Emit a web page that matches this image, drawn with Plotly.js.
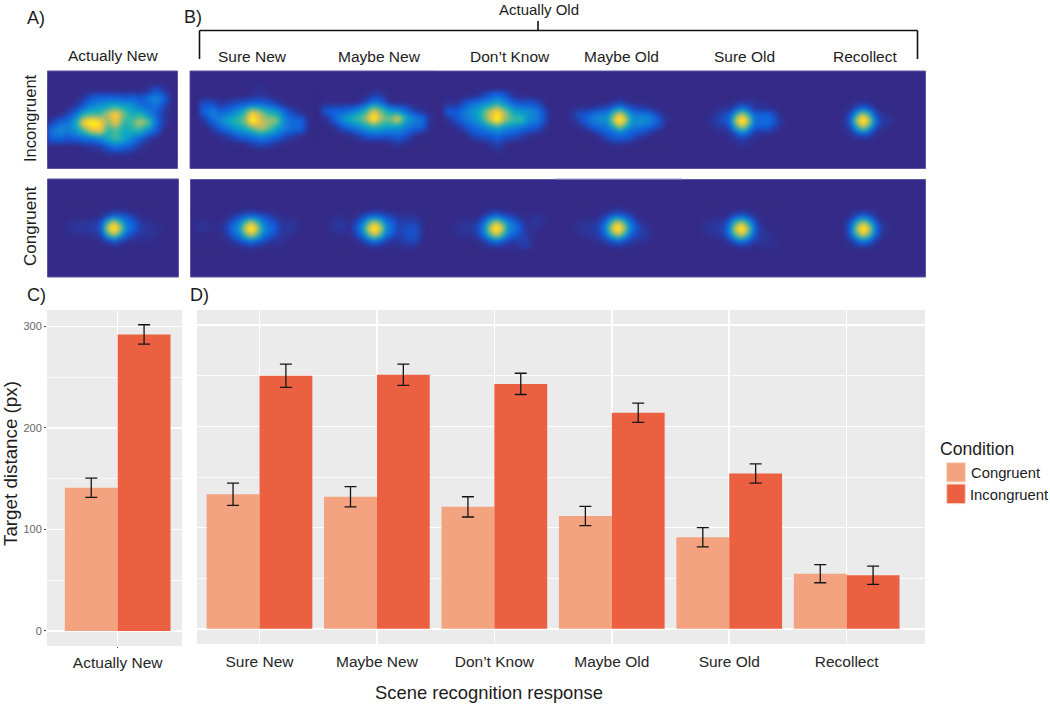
<!DOCTYPE html>
<html>
<head>
<meta charset="utf-8">
<script src="https://cdn.plot.ly/plotly-3.0.1.min.js"></script>
<style>
html, body { margin: 0; padding: 0; background: #fff; }
</style>
</head>
<body>
<svg width="0" height="0" style="position:absolute">
  <filter id="soft" x="-15%" y="-25%" width="130%" height="150%" color-interpolation-filters="sRGB">
    <feGaussianBlur stdDeviation="2.2"></feGaussianBlur>
  </filter>
</svg>
<div id="chart" style="width:1050px;height:704px"></div>
<script>
var categoriesNew = ["Actually New"];
var congruentNew = [141];
var incongruentNew = [292];
var errCongruentNew = [9.5];
var errIncongruentNew = [9.5];

var categoriesOld = ["Sure New", "Maybe New", "Don\u2019t Know", "Maybe Old", "Sure Old", "Recollect"];
var congruentOld = [133, 130.5, 120.5, 111.5, 90.5, 54.5];
var incongruentOld = [250, 251, 242, 213.5, 153.5, 53];
var errCongruentOld = [11, 10, 10, 9.5, 9.5, 9];
var errIncongruentOld = [11.5, 10.5, 10.5, 9.5, 9.5, 9];
var conditions = ["Congruent", "Incongruent"];

// fixation maps, coarse density levels (0 = background, 8 = yellow peak)
var mapNewIncongruent = [
  [0,0,0,0,0,0,0,0,0,0,0,0,.2,.7,.2,0],
  [0,0,0,0,.3,1,1.2,1.2,1.2,1,1.2,.8,1.3,2.2,1.2,0],
  [0,0,0,.3,1,2,2.5,3,3.5,3,2.5,1.5,1.2,1.5,.5,0],
  [0,0,.5,1.3,3.5,4,3.8,5.5,7,4.5,3.2,3.5,2.2,1,.2,0],
  [.3,1.2,1.5,3,7,8,7,4.5,6.5,3.5,4,5.5,4.5,1.5,.3,0],
  [1.5,2.2,1.8,2.5,4,6,6.5,3.5,4,3,3.5,3.5,2,1,0,0],
  [1,1.2,.8,1,1.3,1.5,2,3,4.2,3,2,1,.3,0,0,0],
  [0,0,0,0,.1,.2,.3,1,1.5,1.2,.8,.2,0,0,0,0],
  [0,0,0,0,0,0,0,.1,.1,.1,0,0,0,0,0,0]
];
var mapNewCongruent = [
  [0,0,0,0,0,0,0,.05,.1,.05,0,0,0,0,0,0,0],
  [0,0,0,0,0,0,.1,.5,1.2,1,.9,.4,.1,0,0,0,0],
  [.05,.15,.2,.2,.25,.3,.8,3.5,6,3.5,1.6,1.2,.5,.15,.1,.05,0],
  [.1,.2,.25,.25,.3,.4,1,6,8,6,2,1.3,.6,.25,.2,.15,.05],
  [.05,.1,.1,.15,.1,.2,.7,3.5,6,3.5,1.3,.7,.3,.2,.2,.15,.05],
  [0,0,0,0,0,0,.1,.5,1.2,.7,.3,.1,.1,.1,.1,.05,0],
  [0,0,0,0,0,0,0,.05,.1,.05,0,0,0,0,0,0,0]
];
var mapSureNewIncongruent = [
  [0,0,0,0,0,0,0,.15,0,0,0,0,0,0],
  [0,0,0,0,0,0,.1,.3,.1,0,0,0,0,0],
  [.8,.8,.2,.5,.8,1,1.3,1.4,1.1,.5,.1,0,0,0],
  [1,2,1.2,1.5,2.2,3.5,6.5,5,3.4,3,1.3,.5,.1,0],
  [.2,1.2,2,3,3.8,4.5,8,6,5,5,2,1.3,1.2,.1],
  [0,.2,1,1.5,2.5,3,4.2,5.5,4.5,3,1.8,1.3,1.3,.1],
  [0,0,.1,.3,.8,1.2,1.5,2,1.7,1.2,.6,.3,0,0],
  [0,0,0,0,0,0,.3,.5,.4,.1,0,0,0,0]
];
var mapMaybeNewIncongruent = [
  [0,0,0,0,0,0,.3,.2,0,0,0,0,0,0],
  [0,0,0,0,0,.6,1.6,1.2,0,0,0,0,0,0],
  [.8,1.2,1,1.4,2,3.5,6,4.2,2.5,2,1.2,.4,.1,0],
  [.1,1,2.2,3.2,4,5,8,5,4.5,6.5,3.2,2,1.4,.1],
  [0,.1,.8,1.4,2,2.8,3.5,3,2.8,2.6,1.8,1.4,1.2,.1],
  [0,0,0,.1,.4,1,1.2,1.1,1,1.3,.9,.2,0,0],
  [0,0,0,0,0,0,0,0,.1,.3,.1,0,0,0]
];
var mapDontKnowIncongruent = [
  [0,0,0,0,.2,.8,1.2,.8,.1,0,0,0,0],
  [.2,.1,.8,1.5,2,2.5,3.5,2.2,1.2,.8,.9,.6,0],
  [1,1,1.8,2.5,3.5,5.5,7,5,3,2.5,2.3,1.8,.5],
  [.2,.8,1.4,2,3.2,5.5,8,5,4,4,2,1.8,.6],
  [0,.1,.6,1.2,1.5,2.2,2.8,2.2,1.8,1.4,1,.8,.1],
  [0,0,0,.5,.8,.9,1.2,.9,.7,.4,.1,0,0],
  [0,0,0,0,0,.1,.6,.1,0,0,0,0,0],
  [0,0,0,0,0,0,.1,0,0,0,0,0,0]
];
var mapMaybeOldIncongruent = [
  [0,0,0,0,0,0,0,.1,.3,.1,0,0,0,0,0,0,0],
  [0,.1,.15,.1,.2,.4,.6,1.1,2,1.1,.6,.4,.3,.1,0,0,0],
  [.2,.7,.7,.9,1.6,1.7,1.8,4,6,4,1.8,1.5,1.4,1.2,.6,.1,0],
  [.1,.4,.9,1.6,2,2.4,2.4,6,8,6,2.4,2.4,2.5,2.2,1.3,.6,.1],
  [0,.1,.4,.9,1.3,1.5,1.8,3.5,6,3.5,1.9,1.8,1.6,1.2,.9,.4,0],
  [0,0,0,.1,.4,.9,1.1,1.3,2,1.3,1.1,1,.7,.4,.1,0,0],
  [0,0,0,0,0,.1,.6,1,1,1,.7,.2,.1,0,0,0,0],
  [0,0,0,0,0,0,.05,.1,.2,.1,.05,0,0,0,0,0,0]
];
var mapSureOldIncongruent = [
  [0,0,0,0,0,.1,.2,.2,.2,.1,.1,0,0,0,0],
  [0,0,.1,.2,.2,.8,1.7,.9,.2,.2,.2,.1,0,0,0],
  [0,.1,.4,.6,.9,3.5,6,3.5,1.1,1.1,1.2,.8,.2,0,0],
  [.05,.2,.5,.7,1.4,6,8,6,1.5,1.3,1.5,1.2,.4,.1,0],
  [0,.1,.3,.3,.8,3.5,6,3.5,1,1,1.1,.7,.2,0,0],
  [0,0,.05,.1,.2,.9,1.8,1,.3,.15,.2,.1,0,0,0],
  [0,0,0,0,.1,.2,.4,.2,.1,0,0,0,0,0,0],
  [0,0,0,0,0,.1,.2,.1,0,0,0,0,0,0,0]
];
var mapRecollectIncongruent = [
  [0,.05,.1,.1,.1,0,0,0,0],
  [.05,.15,.8,1.3,.8,.15,0,0,0],
  [.1,.8,3.5,6,3.5,.8,.2,.1,0],
  [.15,1.3,6,8,6,1.4,.4,.3,.1],
  [.1,.8,3.5,6,3.5,.8,.2,.1,0],
  [.05,.15,.8,1.3,.8,.15,0,0,0],
  [0,.05,.1,.1,.1,0,0,0,0]
];
var mapSureNewCongruent = [
  [0,0,0,0,0,0,0,0,.05,.1,.05,0,0,0,0,0,0,0],
  [0,0,0,0,0,.05,.3,.7,1.1,1.5,1.2,.8,.5,.2,.05,.05,0,0],
  [.1,.2,.1,.05,.05,.3,1,1.7,4,6,4,1.7,1.1,.7,.2,.2,.25,.05],
  [.15,.2,.1,.05,.1,.6,1.5,2.4,6,8,6,2.4,1.5,.9,.3,.3,.25,.05],
  [0,.05,0,0,.05,.3,1,1.7,4,6,4,1.7,1.1,.6,.25,.15,.05,0],
  [0,0,0,0,0,.05,.3,.7,1.1,1.6,1.1,.7,.3,.2,.2,.05,0,0],
  [0,0,0,0,0,0,.05,.1,.2,.2,.2,.1,.05,.1,.1,0,0,0]
];
var mapMaybeNewCongruent = [
  [0,0,0,0,0,0,0,.1,.1,0,0,0,0,.05,0,0],
  [.05,.1,.1,0,.1,.6,1.1,1.5,1.1,.7,.5,.2,.15,.2,.15,.05],
  [.15,.3,.2,.05,.6,1.5,4,6,4,1.6,1.1,.4,.4,.5,.4,.1],
  [.15,.3,.2,.1,.9,2.2,6,8,6,2.2,1.3,.4,.6,.8,.7,.15],
  [.05,.1,.05,.05,.5,1.3,4,6,4,1.4,.9,.4,.6,.8,.7,.1],
  [0,0,0,0,.05,.3,1,1.5,1,.4,.2,.2,.4,.6,.5,.05],
  [0,0,0,0,0,.05,.1,.2,.1,.05,.05,.1,.15,.2,.1,0]
];
var mapDontKnowCongruent = [
  [0,0,0,0,0,0,.1,.2,.1,0,0,0,0,0,0,0],
  [0,0,0,0,.1,.4,1,1.5,1,.7,.4,.1,.05,.1,.2,.1],
  [.05,.1,.2,.2,.4,1.4,4,6,4,2,1.2,.6,.1,.2,.3,.1],
  [.1,.2,.25,.25,.7,2.2,6,8,6,2.2,1.7,.9,.2,.1,.1,0],
  [.05,.1,.15,.15,.5,1.4,4,6,3.8,1.5,1,.6,.25,.1,0,0],
  [0,0,0,0,.1,.4,1,1.5,1,.5,.3,.4,.4,.1,0,0],
  [0,0,0,0,0,.05,.15,.2,.15,.1,.1,.3,.4,.05,0,0]
];
var mapMaybeOldCongruent = [
  [0,0,0,0,0,0,.1,.15,.1,0,0,0,0,0],
  [0,0,0,0,.1,.4,1,1.4,1,.5,.1,0,0,0],
  [.05,.15,.2,.2,.4,1.4,3.8,6,3.8,1.5,.6,.1,0,0],
  [.1,.2,.25,.3,.6,2,6,8,6,2,1,.35,.2,0],
  [.05,.15,.2,.25,.5,1.3,3.8,6,3.8,1.3,.6,.35,.2,0],
  [0,0,.05,.1,.2,.4,.9,1.4,.9,.4,.25,.2,.1,0],
  [0,0,0,0,0,.1,.15,.2,.15,.1,.05,0,0,0]
];
var mapSureOldCongruent = [
  [0,0,0,0,0,.05,.1,.05,0,0,0,0,0,0,0],
  [0,0,0,.05,.3,1,1.4,1,.3,.05,0,0,0,0,0],
  [.1,.2,.25,.3,1.2,3.8,6,3.8,1.2,.15,.05,0,0,0,0],
  [.15,.3,.3,.4,1.8,6,8,6,1.8,.3,.1,.05,0,0,0],
  [.05,.1,.2,.3,1.1,3.8,6,3.8,1.1,.3,.2,.1,0,0,0],
  [0,0,0,.05,.3,.9,1.4,.9,.4,.25,.2,.15,.1,0,0],
  [0,0,0,0,0,.1,.1,.1,.05,.05,.1,.1,.05,0,0]
];
var mapRecollectCongruent = [
  [0,.05,.1,.15,.1,.05,0,0,0],
  [.05,.2,1,1.6,1,.2,.05,0,0],
  [.15,1,3.8,6,3.8,1,.2,.05,0],
  [.2,1.5,6,8,6,1.6,.3,.1,0],
  [.1,1,3.8,6,3.8,1,.2,.05,0],
  [.05,.2,1,1.6,1,.2,.05,0,0],
  [0,.05,.1,.15,.1,.05,0,0,0]
];

var parula = [[0,"#352a87"],[.125,"#0f5cdd"],[.25,"#1481d6"],[.375,"#06a4ca"],[.5,"#2eb7a4"],
              [.625,"#87bf77"],[.75,"#d1bb59"],[.875,"#fec832"],[1,"#f9fb0e"]];
var lightColor = "#f3a37f";
var darkColor = "#ec6042";
var mapBg = "#352a87";
var mapEdge = "#5d55a8";
var W = 1050, H = 704;

function xDom(l, r) { return [l / W, r / W]; }
function yDom(t, b) { return [1 - b / H, 1 - t / H]; }

function mapTrace(z, axis, x0, y0, d)
{
    return {
        type: "heatmap", z: z, x0: x0, y0: y0, dx: d, dy: d,
        xaxis: "x" + axis, yaxis: "y" + axis,
        zmin: 0, zmax: 7.5, zsmooth: "best", colorscale: parula,
        showscale: false, hoverinfo: "skip"
    };
}

function barTrace(name, x, y, err, color, axis)
{
    return {
        type: "bar", name: name, x: x, y: y,
        xaxis: axis == 1 ? "x" : "x2", yaxis: axis == 1 ? "y" : "y2",
        marker: { color: color },
        error_y: { type: "data", array: err, visible: true, color: "#151515", thickness: 1.3, width: 6 },
        showlegend: false
    };
}

var traces = [
    barTrace(conditions[0], categoriesNew, congruentNew, errCongruentNew, lightColor, 1),
    barTrace(conditions[1], categoriesNew, incongruentNew, errIncongruentNew, darkColor, 1),
    barTrace(conditions[0], categoriesOld, congruentOld, errCongruentOld, lightColor, 2),
    barTrace(conditions[1], categoriesOld, incongruentOld, errIncongruentOld, darkColor, 2),
    mapTrace(mapNewIncongruent, 3, 3.8, 19, 8),
    mapTrace(mapNewCongruent, 4, 17.8, 30.7, 6),
    mapTrace(mapSureNewIncongruent, 5, 13.7, 17, 8),
    mapTrace(mapMaybeNewIncongruent, 5, 135.3, 23.3, 8),
    mapTrace(mapDontKnowIncongruent, 5, 258.7, 24.3, 8),
    mapTrace(mapMaybeOldIncongruent, 5, 381.3, 30.3, 6),
    mapTrace(mapSureOldIncongruent, 5, 515.7, 31.3, 6),
    mapTrace(mapRecollectIncongruent, 5, 654.7, 31.3, 6),
    mapTrace(mapSureNewCongruent, 6, 6.2, 30.8, 6),
    mapTrace(mapMaybeNewCongruent, 6, 141.5, 30.8, 6),
    mapTrace(mapDontKnowCongruent, 6, 263.5, 30.8, 6),
    mapTrace(mapMaybeOldCongruent, 6, 384.8, 30.2, 6),
    mapTrace(mapSureOldCongruent, 6, 514.2, 31.2, 6),
    mapTrace(mapRecollectCongruent, 6, 654.5, 31.2, 6)
];

function hiddenAxis(domain, range, anchor)
{
    return { domain: domain, range: range, anchor: anchor, visible: false, showgrid: false, zeroline: false, fixedrange: true };
}

function valueAxis(domain, range, anchor, showLabels)
{
    return {
        domain: domain, range: range, anchor: anchor, dtick: 100, tick0: 0,
        gridcolor: "#ffffff", gridwidth: 1.5, zeroline: false,
        minor: { dtick: 50, tick0: 0, showgrid: true, gridcolor: "#ffffff", gridwidth: 0.8, ticks: "" },
        showticklabels: showLabels,
        ticks: showLabels ? "outside" : "", ticklen: 2, tickcolor: "#444444",
        tickfont: { family: "Liberation Sans", size: 11, color: "#666666" }
    };
}

function categoryAxis(domain, range, anchor, cats, mark)
{
    return {
        domain: domain, range: range, anchor: anchor, type: "category",
        categoryorder: "array", categoryarray: cats,
        gridcolor: "#ffffff", gridwidth: 1.5, zeroline: false,
        ticks: mark ? "outside" : "", ticklen: 1, tickcolor: "#444444",
        ticklabelstandoff: mark ? 1 : 6,
        tickfont: { family: "Liberation Sans", size: 15.5, color: "#262626" }
    };
}

function label(text, x, y, size, angle)
{
    return {
        text: text, xref: "paper", yref: "paper", x: x / W, y: 1 - y / H,
        xanchor: "center", yanchor: "middle", showarrow: false, textangle: angle || 0,
        borderpad: 0,
        font: { family: "Liberation Sans", size: size, color: "#1c1c1c" }
    };
}

var annotations = [
    label("A)", 36, 18, 18), label("B)", 193, 17, 18),
    label("C)", 36, 295, 18), label("D)", 199, 295, 18),
    label("Actually Old", 539, 9, 15), label("Actually New", 113, 55, 15.5),
    label("Sure New", 252, 57, 15.5), label("Maybe New", 379, 56, 15.5),
    label("Don\u2019t Know", 510, 56, 15.5), label("Maybe Old", 621, 56, 15.5),
    label("Sure Old", 744, 56, 15.5), label("Recollect", 865, 56, 15.5),
    label("Incongruent", 30, 118, 16.5, -90), label("Congruent", 30, 226, 17, -90),
    label("Target distance (px)", 10, 464, 18.8, -90),
    label("Scene recognition response", 489, 692, 18.4),
    label("Condition", 977, 449, 17.6),
    label(conditions[0], 1005, 473, 14.8), label(conditions[1], 1009, 494.5, 14.8)
];

function paperRect(l, t, r, b, fill, edge)
{
    return {
        type: "rect", xref: "paper", yref: "paper", layer: "below",
        x0: l / W, x1: r / W, y0: 1 - b / H, y1: 1 - t / H,
        fillcolor: fill, line: { color: edge, width: 1 }
    };
}

function paperLine(x0, y0, x1, y1, color, width)
{
    return {
        type: "line", xref: "paper", yref: "paper",
        x0: x0 / W, x1: x1 / W, y0: 1 - y0 / H, y1: 1 - y1 / H,
        line: { color: color, width: width }
    };
}

var shapes = [
    paperRect(47.5, 71, 177.5, 168.5, mapBg, mapEdge),
    paperRect(47.5, 179, 178.5, 277, mapBg, mapEdge),
    paperRect(190, 71, 925.5, 168.5, mapBg, mapEdge),
    paperRect(190.5, 179.5, 925.5, 277, mapBg, mapEdge),
    // bracket over panel B
    paperLine(199.5, 59, 199.5, 30.5, "#111111", 1.6),
    paperLine(199.5, 30.5, 917.5, 30.5, "#111111", 1.6),
    paperLine(917.5, 30.5, 917.5, 59, "#111111", 1.6),
    paperLine(538, 21, 538, 30.5, "#111111", 1.6),
    // pale seams in the maps
    paperLine(435, 70.5, 558, 70.5, "#b9b5d6", 1),
    paperLine(555, 178.8, 682, 178.8, "#b9b5d6", 1),
    // legend keys
    paperRect(946.7, 462.7, 965.3, 482, lightColor, "#f9d9cb"),
    paperRect(946.7, 484, 965.3, 503.7, darkColor, "#f9d9cb")
];
shapes[10].layer = "above";
shapes[11].layer = "above";

var layout = {
    width: W, height: H,
    margin: { l: 0, r: 0, t: 0, b: 0 },
    paper_bgcolor: "#ffffff", plot_bgcolor: "#ebebeb",
    barmode: "group", bargap: 0.1, bargroupgap: 0,
    showlegend: false,
    annotations: annotations, shapes: shapes,
    xaxis: categoryAxis(xDom(47, 182), [-0.602, 0.548], "y", categoriesNew, true),
    yaxis: valueAxis(yDom(310, 646), [-14.8, 316], "x", true),
    xaxis2: categoryAxis(xDom(197, 925), [-0.532, 5.667], "y2", categoriesOld, false),
    yaxis2: valueAxis(yDom(310, 644), [-15, 315], "x2", false),
    xaxis3: hiddenAxis(xDom(47.5, 177.5), [0, 130], "y3"),
    yaxis3: hiddenAxis(yDom(71, 168.5), [97.5, 0], "x3"),
    xaxis4: hiddenAxis(xDom(47.5, 178.5), [0, 131], "y4"),
    yaxis4: hiddenAxis(yDom(179, 277), [98, 0], "x4"),
    xaxis5: hiddenAxis(xDom(190, 925.5), [0, 735.5], "y5"),
    yaxis5: hiddenAxis(yDom(71, 168.5), [97.5, 0], "x5"),
    xaxis6: hiddenAxis(xDom(190.5, 925.5), [0, 735], "y6"),
    yaxis6: hiddenAxis(yDom(179.5, 277), [97.5, 0], "x6")
};

Plotly.newPlot("chart", traces, layout, { displayModeBar: false, staticPlot: true }).then(function()
{
    // the maps in the paper are soft, take the hard cell edges off
    var images = document.querySelectorAll("#chart .hm image");
    for(var iii = 0; iii < images.length; iii++)
    {
        images[iii].setAttribute("filter", "url(#soft)");
    }
});
</script>
</body>
</html>
